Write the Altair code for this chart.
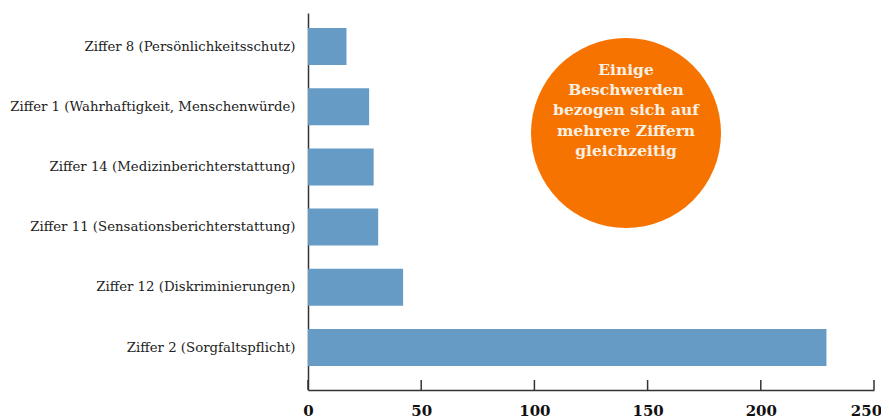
import altair as alt
import pandas as pd

categories = [
    "Ziffer 8 (Persönlichkeitsschutz)",
    "Ziffer 1 (Wahrhaftigkeit, Menschenwürde)",
    "Ziffer 14 (Medizinberichterstattung)",
    "Ziffer 11 (Sensationsberichterstattung)",
    "Ziffer 12 (Diskriminierungen)",
    "Ziffer 2 (Sorgfaltspflicht)",
]
values = [17, 27, 29, 31, 42, 229]
tick_values = [0, 50, 100, 150, 200, 250]
note_lines = ["Einige", "Beschwerden", "bezogen sich auf", "mehrere Ziffern", "gleichzeitig"]

FONT = "DejaVu Serif"
W, H = 566, 377

df = pd.DataFrame({"category": categories, "value": values})
ticks_df = pd.DataFrame({"t": tick_values})

xscale = alt.Scale(domain=[0, 250], nice=False, zero=True)
yscale = alt.Scale(domain=categories, paddingInner=0.385, paddingOuter=0.324, align=0.385)

bars = alt.Chart(df).mark_bar(color="#669bc5").encode(
    x=alt.X("value:Q", scale=xscale,
            axis=alt.Axis(values=tick_values, title=None, grid=False, tickSize=0,
                          domainColor="#333333", domainWidth=1.5,
                          labelFont=FONT, labelFontWeight="bold", labelFontSize=15,
                          labelColor="#111111", labelPadding=13, labelFlush=False,
                          labelOffset=alt.expr("datum.value == 250 ? -8 : 0"))),
    y=alt.Y("category:N", sort=categories, scale=yscale,
            axis=alt.Axis(title=None, ticks=False, domainColor="#333333", domainWidth=1.5,
                          labelFont=FONT, labelFontSize=13.3, labelColor="#222222",
                          labelPadding=13, labelLimit=400)),
)

tick_rules = alt.Chart(ticks_df).mark_rule(color="#333333", strokeWidth=1.5).encode(
    x=alt.X("t:Q", scale=xscale),
    y=alt.value(H - 10),
    y2=alt.value(H),
)

circle = alt.Chart(pd.DataFrame({"a": [0]})).mark_point(
    shape="circle", filled=True, color="#f77300", opacity=1, size=36100
).encode(x=alt.value(318), y=alt.value(120))

note = alt.Chart(pd.DataFrame({"a": [0]})).mark_text(
    font=FONT, fontWeight="bold", fontSize=15.5, color="#f8f0e3",
    align="center", baseline="middle", lineHeight=20.2
).encode(x=alt.value(318), y=alt.value(57), text=alt.value(note_lines))

chart = alt.layer(bars, tick_rules, circle, note).properties(
    width=W, height=H,
    autosize=alt.AutoSizeParams(type="none"),
    padding={"left": 300, "top": 5, "right": 7, "bottom": 29},
).configure_view(stroke=None)

chart.save("out.html", embed_options={"renderer": "svg", "actions": False})
